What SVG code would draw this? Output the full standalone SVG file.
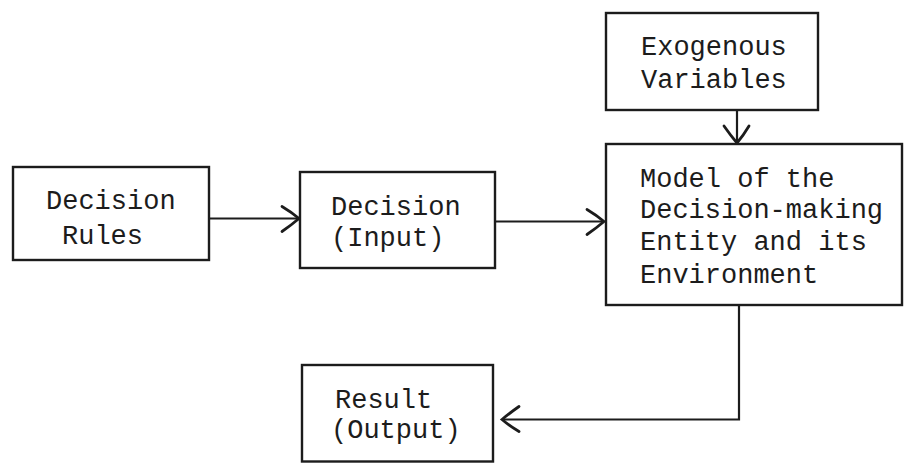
<svg xmlns="http://www.w3.org/2000/svg" width="905" height="464" viewBox="0 0 905 464">
  <style>
    .box { fill: #ffffff; stroke: #1c1c1c; stroke-width: 2.4; }
    .lbl { font-family: "Liberation Mono", "DejaVu Sans Mono", monospace; font-size: 27px; fill: #1c1c1c; }
    .wire { fill: none; stroke: #1c1c1c; stroke-width: 2.2; }
  </style>
  <defs>
    <!-- open typewritten-style arrowhead, tip at the line end -->
    <marker id="head" markerUnits="userSpaceOnUse" markerWidth="30" markerHeight="30" viewBox="-22 -15 30 30" refX="0" refY="0" orient="auto" overflow="visible">
      <path d="M -17,-12 Q -7,-6 0,0 Q -7,6 -17,13" fill="none" stroke="#1c1c1c" stroke-width="2.8" stroke-linecap="round"/>
    </marker>
  </defs>
  <rect width="905" height="464" fill="#ffffff"/>

  <g id="connectors">
    <path class="wire" d="M 209,218.5 L 299,218.5" marker-end="url(#head)"/>
    <path class="wire" d="M 495,221.5 L 604,221.5" marker-end="url(#head)"/>
    <path class="wire" d="M 737,110 L 737,143" marker-end="url(#head)"/>
    <path class="wire" d="M 739,305 L 739,419.5 L 502,419.5" marker-end="url(#head)"/>
  </g>

  <g id="decision-rules">
    <rect class="box" x="13" y="167" width="196" height="93"/>
    <text class="lbl" x="46" y="209">Decision</text>
    <text class="lbl" x="62" y="244">Rules</text>
  </g>

  <g id="decision-input">
    <rect class="box" x="300" y="172" width="195" height="96"/>
    <text class="lbl" x="331" y="215">Decision</text>
    <text class="lbl" x="331" y="246">(Input)</text>
  </g>

  <g id="exogenous-variables">
    <rect class="box" x="606" y="13" width="212" height="97"/>
    <text class="lbl" x="641" y="55">Exogenous</text>
    <text class="lbl" x="641" y="88">Variables</text>
  </g>

  <g id="model">
    <rect class="box" x="606" y="144" width="296" height="161"/>
    <text class="lbl" x="640" y="187">Model of the</text>
    <text class="lbl" x="640" y="218">Decision-making</text>
    <text class="lbl" x="640" y="250">Entity and its</text>
    <text class="lbl" x="640" y="283">Environment</text>
  </g>

  <g id="result-output">
    <rect class="box" x="302" y="365" width="191" height="96.5"/>
    <text class="lbl" x="335" y="408">Result</text>
    <text class="lbl" x="331" y="438">(Output)</text>
  </g>
</svg>
